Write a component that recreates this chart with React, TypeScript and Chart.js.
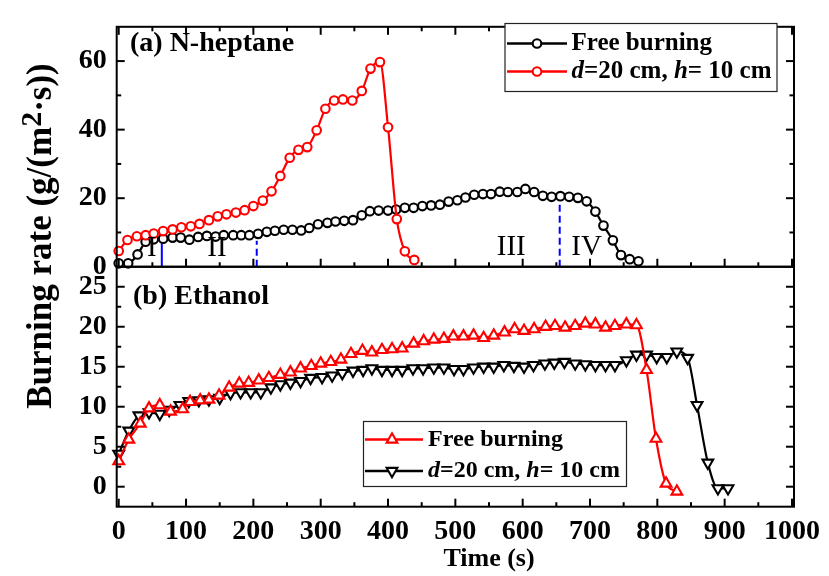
import React, { useEffect, useRef } from 'react';
import { Chart, registerables } from 'chart.js';

Chart.register(...registerables);

const FONT = "'Liberation Serif', 'Times New Roman', Times, serif";

// ---------- (a) N-heptane ----------
const heptaneFreeTime = [0, 14, 28, 40, 52, 66, 80, 92, 105, 118, 131, 144, 156, 170, 182, 194, 207, 220, 232, 245, 258, 271, 283, 296, 310, 322, 335, 348, 361, 373, 386, 400, 412, 425, 438, 451, 464, 477, 490, 503, 515, 528, 541, 553, 566, 578, 592, 604, 617, 630, 643, 656, 669, 682, 695, 708, 720, 734, 746, 759, 772];
const heptaneFreeRate = [1.0, 1.0, 3.6, 7.3, 8.0, 8.2, 8.5, 8.5, 7.9, 8.7, 9.0, 8.8, 9.2, 9.2, 9.2, 9.2, 9.6, 10.2, 10.5, 10.8, 10.8, 10.6, 11.3, 12.4, 12.8, 13.2, 13.4, 13.6, 15.0, 16.2, 16.4, 16.4, 16.7, 17.2, 17.2, 17.7, 17.9, 18.1, 19.0, 19.4, 20.2, 21.0, 21.2, 21.2, 21.9, 21.8, 21.8, 22.7, 21.8, 20.7, 20.4, 20.6, 20.4, 20.1, 19.1, 16.1, 12.0, 7.7, 3.4, 2.2, 1.6];

const heptaneShieldTime = [0, 13, 27, 40, 52, 66, 80, 93, 107, 120, 134, 147, 160, 174, 187, 200, 214, 227, 240, 254, 267, 280, 294, 307, 320, 333, 347, 361, 374, 388, 400, 413, 425, 439];
const heptaneShieldRate = [4.6, 7.8, 8.9, 9.2, 9.7, 10.4, 10.9, 11.5, 11.8, 12.5, 13.6, 14.7, 15.3, 15.8, 16.5, 17.7, 19.3, 22.0, 26.5, 31.8, 34.1, 34.9, 39.8, 46.1, 48.5, 48.8, 48.5, 51.3, 57.8, 59.7, 40.7, 13.9, 4.5, 2.0];

// ---------- (b) Ethanol ----------
const ethanolFreeTime = [0, 15, 32, 45, 61, 77, 95, 106, 121, 134, 149, 164, 179, 193, 208, 223, 240, 255, 270, 286, 300, 315, 330, 345, 362, 376, 391, 406, 421, 438, 453, 468, 483, 497, 512, 527, 542, 557, 573, 588, 602, 617, 634, 648, 663, 678, 693, 708, 723, 737, 754, 769, 784, 798, 813, 829];
const ethanolFreeRate = [3.2, 5.9, 7.9, 9.8, 10.2, 9.4, 9.7, 10.6, 10.8, 10.9, 11.4, 12.4, 12.9, 13.0, 13.3, 13.6, 14.0, 14.3, 14.8, 15.1, 15.4, 15.6, 15.9, 16.6, 17.0, 16.8, 17.1, 17.2, 17.3, 17.9, 18.2, 18.4, 18.5, 18.8, 18.8, 18.9, 18.6, 18.9, 19.3, 19.7, 19.5, 19.7, 20.0, 20.1, 19.9, 20.1, 20.4, 20.3, 19.9, 20.1, 20.3, 20.2, 14.6, 6.0, 0.4, -0.6];

const ethanolShieldTime = [0, 15, 30, 45, 61, 75, 91, 104, 119, 134, 150, 166, 181, 196, 211, 226, 240, 255, 270, 285, 302, 317, 332, 348, 363, 376, 391, 406, 421, 437, 452, 468, 483, 498, 512, 527, 542, 557, 572, 587, 602, 616, 633, 647, 662, 678, 693, 708, 723, 737, 754, 769, 784, 799, 814, 829, 845, 859, 875, 890, 905];
const ethanolShieldRate = [4.1, 7.0, 8.9, 9.3, 9.1, 9.6, 10.2, 10.7, 10.8, 10.9, 11.1, 11.7, 11.8, 11.8, 11.8, 12.4, 12.8, 13.0, 13.2, 13.6, 13.7, 13.9, 14.2, 14.5, 14.6, 14.8, 14.6, 14.6, 14.6, 14.8, 14.8, 14.9, 14.9, 14.7, 14.7, 14.9, 15.0, 15.0, 15.2, 15.1, 15.0, 15.2, 15.4, 15.5, 15.6, 15.4, 15.3, 15.2, 15.2, 15.2, 15.8, 16.5, 16.5, 16.2, 16.2, 16.9, 16.1, 10.2, 3.0, -0.2, -0.2];

// ---------- axes ----------
const xTicks = [0, 100, 200, 300, 400, 500, 600, 700, 800, 900, 1000];
const yTopTicks = [0, 20, 40, 60];
const yBotTicks = [0, 5, 10, 15, 20, 25];

// ---------- stage annotations (panel a) ----------
const stageBoundaryTime = [64, 205, 655];
const stageBoundaryTop = [6.8, 7.6, 19.3];
const stageLabels = ['I', 'II', 'III', 'IV'];
const stageLabelTime = [49, 146, 583, 695];
const stageLabelRate = [5.3, 5.3, 5.6, 5.6];

// ---------- texts ----------
const panelA = '(a) N-heptane';
const panelB = '(b) Ethanol';
const legendFree = 'Free burning';
const legendShield = [
  { t: 'd', italic: true },
  { t: '=20 cm, ', italic: false },
  { t: 'h', italic: true },
  { t: '= 10 cm', italic: false },
];
const xTitle = 'Time (s)';
const yTitleMain = 'Burning rate (g/(m';
const yTitleSup = '2';
const yTitleEnd = '\u00b7s))';

const RED = '#ff0000';
const BLACK = '#000000';
const BLUE = '#0000ff';

const CIRCLE_R = 4.3;
const TRI_R = 6.2;
const MARK_W = 2.1;

const pts = (xs: number[], ys: number[]) => xs.map((x, i) => ({ x, y: ys[i] }));

function drawMarker(ctx: CanvasRenderingContext2D, style: string, x: number, y: number, color: string) {
  ctx.save();
  ctx.strokeStyle = color;
  ctx.fillStyle = '#fff';
  ctx.beginPath();
  ctx.lineWidth = MARK_W;
  if (style === 'circle') {
    ctx.arc(x, y, CIRCLE_R, 0, Math.PI * 2);
  } else {
    const r = TRI_R;
    let rad = style === 'down' ? Math.PI : 0;
    for (let i = 0; i < 3; i++) {
      const px = x + Math.sin(rad) * r;
      const py = y - Math.cos(rad) * r;
      if (i === 0) ctx.moveTo(px, py);
      else ctx.lineTo(px, py);
      rad += (Math.PI * 2) / 3;
    }
    ctx.closePath();
  }
  ctx.fill();
  ctx.stroke();
  ctx.restore();
}

function drawParts(ctx: CanvasRenderingContext2D, parts: { t: string; italic: boolean }[], x: number, y: number, size: number) {
  let xx = x;
  for (const p of parts) {
    ctx.font = `${p.italic ? 'italic ' : ''}bold ${size}px ${FONT}`;
    ctx.fillText(p.t, xx, y);
    xx += ctx.measureText(p.t).width;
  }
}

function drawLegend(
  ctx: CanvasRenderingContext2D,
  box: { l: number; t: number; r: number; b: number },
  rows: { y: number; color: string; style: string; parts: { t: string; italic: boolean }[] }[],
  line: { x1: number; x2: number; mx: number; tx: number },
  size: number
) {
  ctx.save();
  ctx.fillStyle = '#fff';
  ctx.fillRect(box.l, box.t, box.r - box.l, box.b - box.t);
  ctx.strokeStyle = '#222';
  ctx.lineWidth = 1.2;
  ctx.strokeRect(box.l, box.t, box.r - box.l, box.b - box.t);
  for (const row of rows) {
    ctx.strokeStyle = row.color;
    ctx.lineWidth = 2.4;
    ctx.beginPath();
    ctx.moveTo(line.x1, row.y);
    ctx.lineTo(line.x2, row.y);
    ctx.stroke();
    drawMarker(ctx, row.style, line.mx, row.y, row.color);
    ctx.fillStyle = '#000';
    ctx.textBaseline = 'middle';
    ctx.textAlign = 'left';
    drawParts(ctx, row.parts, line.tx, row.y, size);
  }
  ctx.restore();
}

const decorPlugin = {
  id: 'decor',
  afterDraw(chart: any) {
    const ctx: CanvasRenderingContext2D = chart.ctx;
    const x = chart.scales.x;
    const yt = chart.scales.yTop;
    const yb = chart.scales.yBot;
    ctx.save();
    ctx.strokeStyle = '#000';
    ctx.lineWidth = 2;
    const seg = (x1: number, y1: number, x2: number, y2: number) => {
      ctx.beginPath();
      ctx.moveTo(x1, y1);
      ctx.lineTo(x2, y2);
      ctx.stroke();
    };
    for (const ys of [yt, yb]) {
      ctx.strokeRect(x.left, ys.top, x.right - x.left, ys.bottom - ys.top);
    }
    for (let v = 0; v <= 1000; v += 50) {
      const px = x.getPixelForValue(v);
      const len = v % 100 === 0 ? 8 : 4.5;
      seg(px, yt.bottom, px, yt.bottom - len);
      seg(px, yt.top, px, yt.top + len);
      seg(px, yb.bottom, px, yb.bottom - len);
    }
    for (let v = 10; v < 70; v += 10) {
      const py = yt.getPixelForValue(v);
      const len = v % 20 === 0 ? 8 : 4.5;
      seg(x.left, py, x.left + len, py);
      seg(x.right, py, x.right - len, py);
    }
    for (let v = 0; v <= 25; v += 2.5) {
      const py = yb.getPixelForValue(v);
      const len = v % 5 === 0 ? 8 : 4.5;
      seg(x.left, py, x.left + len, py);
      seg(x.right, py, x.right - len, py);
    }
    ctx.restore();

    ctx.save();
    ctx.fillStyle = '#000';
    ctx.font = `29px ${FONT}`;
    ctx.textAlign = 'center';
    ctx.textBaseline = 'middle';
    stageLabels.forEach((s, i) => {
      ctx.fillText(s, x.getPixelForValue(stageLabelTime[i]), yt.getPixelForValue(stageLabelRate[i]));
    });
    ctx.restore();

    ctx.save();
    ctx.fillStyle = '#000';
    ctx.font = `bold 28px ${FONT}`;
    ctx.textAlign = 'left';
    ctx.textBaseline = 'middle';
    ctx.fillText(panelA, 130, 44);
    ctx.fillText(panelB, 133, 297);
    ctx.restore();

    drawLegend(
      ctx,
      { l: 505, t: 23.5, r: 777, b: 91.5 },
      [
        { y: 43.5, color: BLACK, style: 'circle', parts: [{ t: legendFree, italic: false }] },
        { y: 71.5, color: RED, style: 'circle', parts: legendShield },
      ],
      { x1: 507, x2: 567, mx: 537, tx: 571.5 },
      25
    );
    drawLegend(
      ctx,
      { l: 363.5, t: 421.5, r: 626.5, b: 486.5 },
      [
        { y: 439.5, color: RED, style: 'up', parts: [{ t: legendFree, italic: false }] },
        { y: 471, color: BLACK, style: 'down', parts: legendShield },
      ],
      { x1: 365, x2: 423, mx: 392, tx: 428 },
      24
    );

    ctx.save();
    ctx.fillStyle = '#000';
    ctx.font = `bold 26px ${FONT}`;
    ctx.textAlign = 'center';
    ctx.textBaseline = 'alphabetic';
    ctx.fillText(xTitle, 489, 566);
    ctx.restore();

    ctx.save();
    ctx.fillStyle = '#000';
    ctx.translate(51, 236);
    ctx.rotate(-Math.PI / 2);
    ctx.textBaseline = 'alphabetic';
    ctx.textAlign = 'left';
    const f1 = `bold 35px ${FONT}`;
    const f2 = `bold 30px ${FONT}`;
    ctx.font = f1;
    const w1 = ctx.measureText(yTitleMain).width;
    const w3 = ctx.measureText(yTitleEnd).width;
    ctx.font = f2;
    const w2 = ctx.measureText(yTitleSup).width;
    let xx = -(w1 + w2 + w3) / 2;
    ctx.font = f1;
    ctx.fillText(yTitleMain, xx, 0);
    xx += w1;
    ctx.font = f2;
    ctx.fillText(yTitleSup, xx, -10);
    xx += w2;
    ctx.font = f1;
    ctx.fillText(yTitleEnd, xx, 0);
    ctx.restore();
  },
};

export default function App() {
  const ref = useRef<HTMLCanvasElement | null>(null);

  useEffect(() => {
    if (!ref.current) return;
    const tickFont = { family: FONT, size: 28, weight: 'bold' as const };
    const plainLabel = (v: any) => String(v);
    const seriesBase = {
      borderWidth: 2.2,
      pointBackgroundColor: '#fff',
      pointBorderWidth: MARK_W,
      cubicInterpolationMode: 'monotone' as const,
      clip: false as const,
    };
    const stageSets = stageBoundaryTime.map((t, i) => ({
      data: [
        { x: t, y: 0 },
        { x: t, y: stageBoundaryTop[i] },
      ],
      yAxisID: 'yTop',
      borderColor: BLUE,
      borderWidth: 2,
      borderDash: i === 0 ? [] : [7, 4],
      pointRadius: 0,
      order: 10,
      clip: false as const,
    }));

    const chart = new Chart(ref.current, {
      type: 'line',
      data: {
        datasets: [
          {
            ...seriesBase,
            data: pts(heptaneShieldTime, heptaneShieldRate),
            yAxisID: 'yTop',
            borderColor: RED,
            pointBorderColor: RED,
            pointStyle: 'circle',
            pointRadius: CIRCLE_R,
            order: 1,
          },
          {
            ...seriesBase,
            data: pts(heptaneFreeTime, heptaneFreeRate),
            yAxisID: 'yTop',
            borderColor: BLACK,
            pointBorderColor: BLACK,
            pointStyle: 'circle',
            pointRadius: CIRCLE_R,
            order: 2,
          },
          {
            ...seriesBase,
            data: pts(ethanolFreeTime, ethanolFreeRate),
            yAxisID: 'yBot',
            borderColor: RED,
            pointBorderColor: RED,
            pointStyle: 'triangle',
            pointRadius: TRI_R,
            order: 1,
          },
          {
            ...seriesBase,
            data: pts(ethanolShieldTime, ethanolShieldRate),
            yAxisID: 'yBot',
            borderColor: BLACK,
            pointBorderColor: BLACK,
            pointStyle: 'triangle',
            pointRotation: 180,
            pointRadius: TRI_R,
            order: 2,
          },
          ...stageSets,
        ] as any,
      },
      options: {
        animation: false,
        responsive: false,
        events: [],
        layout: { padding: { top: 8, right: 35, left: 0, bottom: 0 } },
        plugins: { legend: { display: false }, tooltip: { enabled: false } },
        scales: {
          yBot: {
            type: 'linear',
            position: 'left',
            stack: 'panels',
            stackWeight: 1,
            min: -2.5,
            max: 27.5,
            grid: { display: false, drawTicks: false },
            border: { display: false },
            ticks: { font: tickFont, color: '#000', padding: 10, autoSkip: false, callback: plainLabel },
            afterBuildTicks: (axis: any) => {
              axis.ticks = yBotTicks.map((v) => ({ value: v }));
            },
            afterFit: (axis: any) => {
              axis.width = 116.7;
            },
          },
          yTop: {
            type: 'linear',
            position: 'left',
            stack: 'panels',
            stackWeight: 1,
            min: 0,
            max: 70,
            grid: { display: false, drawTicks: false },
            border: { display: false },
            ticks: { font: tickFont, color: '#000', padding: 10, autoSkip: false, callback: plainLabel },
            afterBuildTicks: (axis: any) => {
              axis.ticks = yTopTicks.map((v) => ({ value: v }));
            },
            afterFit: (axis: any) => {
              axis.width = 116.7;
            },
          },
          x: {
            type: 'linear',
            position: 'bottom',
            min: -3,
            max: 1003,
            grid: { display: false, drawTicks: false },
            border: { display: false },
            ticks: { font: tickFont, color: '#000', padding: 8, autoSkip: false, maxRotation: 0, callback: plainLabel },
            afterBuildTicks: (axis: any) => {
              axis.ticks = xTicks.map((v) => ({ value: v }));
            },
            afterFit: (axis: any) => {
              axis.height = 69.3;
            },
          },
        } as any,
      },
      plugins: [decorPlugin],
    });
    return () => chart.destroy();
  }, []);

  return (
    <div style={{ position: 'fixed', left: 0, top: 0, width: 829, height: 576, background: '#fff' }}>
      <canvas ref={ref} width={829} height={576} style={{ display: 'block', width: 829, height: 576 }} />
    </div>
  );
}
